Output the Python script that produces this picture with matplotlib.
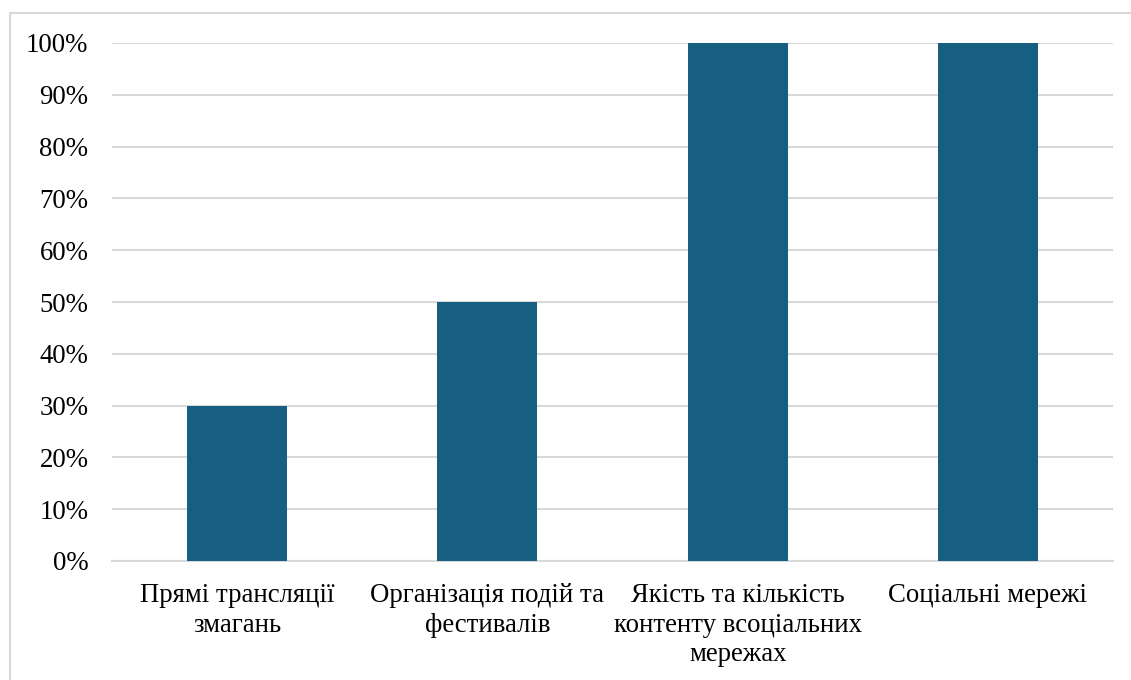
import matplotlib.pyplot as plt
from matplotlib.patches import Rectangle
from matplotlib.ticker import PercentFormatter

categories = ['Прямі трансляції\nзмагань', 'Організація подій та\nфестивалів',
              'Якість та кількість\nконтенту всоціальних\nмережах', 'Соціальні мережі']
values = [30, 50, 100, 100]
yticks = list(range(0, 101, 10))

plt.rcParams['font.family'] = ['Liberation Serif', 'DejaVu Serif']

fig = plt.figure(figsize=(11.31, 6.8), dpi=100)
ax = fig.add_axes([112 / 1131, 1 - 561 / 680, (1113 - 112) / 1131, (561 - 43) / 680])

# рамка вокруг диаграммы (обрезана справа и снизу)
fig.patches.append(Rectangle((9.5 / 1131, -0.1), 1.2, 1.1 - 13.5 / 680,
                             transform=fig.transFigure, fill=False,
                             edgecolor='#D9D9D9', linewidth=1.5, clip_on=False))

ax.bar(range(len(categories)), values, width=0.4, color='#175F80', zorder=3)

ax.set_xlim(-0.5, len(categories) - 0.5)
ax.set_ylim(0, 100)
ax.set_yticks(yticks)
ax.yaxis.set_major_formatter(PercentFormatter(decimals=0))
ax.set_xticks(range(len(categories)))
ax.set_xticklabels(categories, linespacing=1.24)
ax.grid(axis='y', color='#D9D9D9', linewidth=1.5, zorder=0)
for s in ['top', 'right', 'left']:
    ax.spines[s].set_visible(False)
ax.spines['bottom'].set_color('#D9D9D9')
ax.spines['bottom'].set_linewidth(1.5)
ax.tick_params(axis='both', length=0, labelsize=19.3, colors='black')
ax.tick_params(axis='y', pad=17)
ax.tick_params(axis='x', pad=16)

fig.savefig('out.png', dpi=100)
